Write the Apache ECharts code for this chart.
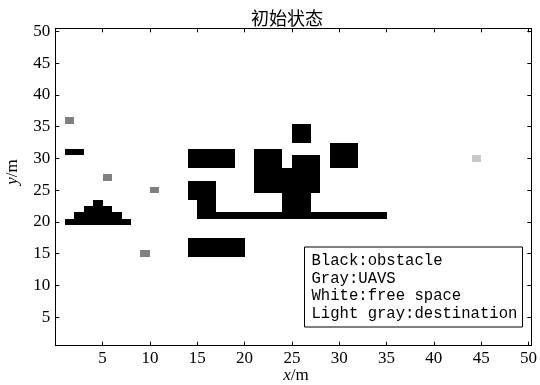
<!DOCTYPE html>
<html><head><meta charset="utf-8">
<script src="https://cdn.jsdelivr.net/npm/echarts@6/dist/echarts.min.js"></script>
<style>html,body{margin:0;padding:0;background:#fff}#c{width:540px;height:385px}</style>
</head><body><div id="c"></div>
<script>
// tick labels
const xTicks = [5, 10, 15, 20, 25, 30, 35, 40, 45, 50];
const yTicks = [5, 10, 15, 20, 25, 30, 35, 40, 45, 50];
// cells as rectangles [xStart, xEnd, yStart, yEnd] in metres
const obstacles = [
  [1, 3, 30.5, 31.5],
  [1, 8, 19.5, 20.5], [2, 7, 20.5, 21.5], [3, 6, 21.5, 22.5], [4, 5, 22.5, 23.5],
  [14, 20, 14.5, 17.5],
  [14, 19, 28.5, 31.5],
  [14, 17, 23.5, 26.5], [15, 17, 21.5, 23.5], [15, 35, 20.5, 21.5],
  [21, 24, 24.5, 31.5], [24, 25, 24.5, 28.5], [25, 28, 24.5, 30.5], [24, 27, 21.5, 24.5],
  [25, 27, 32.5, 35.5],
  [29, 32, 28.5, 32.5]
];
const uavs = [
  [1, 2, 35.5, 36.5],
  [5, 6, 26.5, 27.5],
  [10, 11, 24.5, 25.5],
  [9, 10, 14.5, 15.5]
];
const destinations = [
  [44, 45, 29.5, 30.5]
];
const legendLines = ['Black:obstacle', 'Gray:UAVS', 'White:free space', 'Light gray:destination'];
const titleText = '初始状态';

const chart = echarts.init(document.getElementById('c'), null, {renderer: 'canvas'});

function rectSeries(data, color) {
  return {
    type: 'custom',
    xAxisIndex: 0, yAxisIndex: 0,
    data: data,
    renderItem: function (params, api) {
      const p0 = api.coord([api.value(0), api.value(3)]);
      const p1 = api.coord([api.value(1), api.value(2)]);
      const x0 = Math.round(p0[0]), y0 = Math.round(p0[1]);
      const x1 = Math.round(p1[0]), y1 = Math.round(p1[1]);
      return {
        type: 'rect',
        shape: {x: x0, y: y0, width: x1 - x0, height: y1 - y0},
        style: {fill: color, stroke: null}
      };
    },
    silent: true,
    animation: false
  };
}

const labelFont = {fontFamily: 'Liberation Serif', fontSize: 17, color: '#000'};
function xAx(pos, showLabel) {
  return {
    type: 'value', position: pos, min: 0, max: 50.3,
    axisLine: {show: true, onZero: false, lineStyle: {color: '#000', width: 1}},
    axisTick: {show: true, inside: true, length: 4, customValues: xTicks, lineStyle: {color: '#000'}},
    axisLabel: Object.assign({show: showLabel, margin: 4, customValues: xTicks}, labelFont),
    splitLine: {show: false}
  };
}
function yAx(pos, showLabel) {
  return {
    type: 'value', position: pos, min: 0.5, max: 50.5,
    axisLine: {show: true, onZero: false, lineStyle: {color: '#000', width: 1}},
    axisTick: {show: true, inside: true, length: 4, customValues: yTicks, lineStyle: {color: '#000'}},
    axisLabel: Object.assign({show: showLabel, margin: 5, customValues: yTicks}, labelFont),
    splitLine: {show: false}
  };
}

const lineH = 17.7;
const legendGraphics = [{
  type: 'rect', left: 304, top: 246.5,
  shape: {width: 218, height: 80},
  style: {fill: '#fff', stroke: '#000', lineWidth: 1},
  z: 100
}];
legendLines.forEach(function (t, i) {
  legendGraphics.push({
    type: 'text', x: 311.5, y: 260.7 + i * lineH, z: 101,
    style: {text: t, fontFamily: 'Liberation Mono', fontSize: 15.6, fill: '#000',
            align: 'left', verticalAlign: 'middle'}
  });
});

chart.setOption({
  backgroundColor: '#fff',
  animation: false,
  grid: {left: 55.3, top: 28.3, width: 482.4, height: 317.4, containLabel: false},
  xAxis: [xAx('bottom', true), xAx('top', false)],
  yAxis: [yAx('left', true), yAx('right', false)],
  series: [
    rectSeries(obstacles, '#000000'),
    rectSeries(uavs, '#808080'),
    rectSeries(destinations, '#c8c8c8')
  ],
  graphic: legendGraphics.concat([
    {type: 'text', x: 287, y: 18,
     style: {text: titleText, fontFamily: 'Noto Sans CJK SC', fontSize: 18, fill: '#000',
             align: 'center', verticalAlign: 'middle'}},
    {type: 'text', x: 296, y: 376,
     style: {text: '{i|x}/m', fontFamily: 'Liberation Serif', fontSize: 17, fill: '#000',
             align: 'center', verticalAlign: 'middle',
             rich: {i: {fontStyle: 'italic', fontFamily: 'Liberation Serif', fontSize: 17}}}},
    {type: 'text', x: 13, y: 172, rotation: Math.PI / 2,
     style: {text: '{i|y}/m', fontFamily: 'Liberation Serif', fontSize: 17, fill: '#000',
             align: 'center', verticalAlign: 'middle',
             rich: {i: {fontStyle: 'italic', fontFamily: 'Liberation Serif', fontSize: 17}}}}
  ])
});
</script>
</body></html>
